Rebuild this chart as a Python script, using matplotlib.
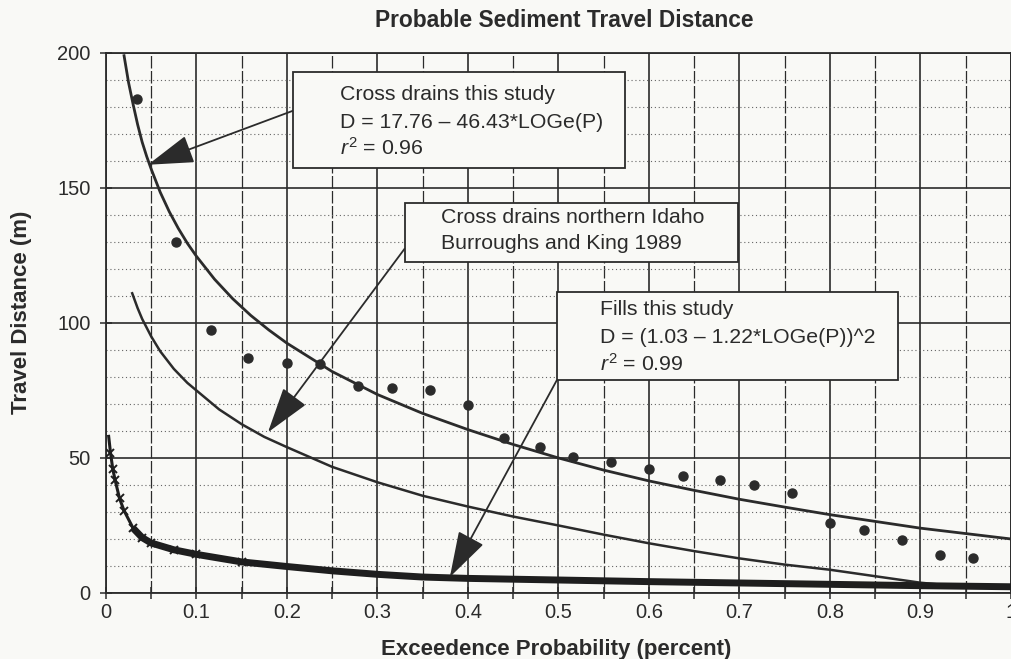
import matplotlib.pyplot as plt
from matplotlib.patches import Rectangle
from matplotlib.ticker import MultipleLocator, FuncFormatter

plt.rcParams['font.family'] = ['Liberation Sans', 'DejaVu Sans']
plt.rcParams['mathtext.fontset'] = 'custom'
plt.rcParams['mathtext.rm'] = 'Liberation Sans'
plt.rcParams['mathtext.it'] = 'Liberation Sans:italic'

# cross drains, this study (observed points)
p_obs = [0.034, 0.077, 0.116, 0.157, 0.200, 0.237, 0.278, 0.316, 0.358, 0.400, 0.440, 0.480,
         0.516, 0.558, 0.600, 0.638, 0.678, 0.716, 0.758, 0.800, 0.838, 0.880, 0.922, 0.958]
d_obs = [183, 130, 97.5, 87, 85.3, 84.8, 76.5, 76, 75, 69.5, 57.5, 54,
         50.5, 48.5, 46, 43.5, 42, 40, 37, 26, 23.5, 19.5, 14, 13]

# fitted curve, cross drains this study
p_fit = [0.02, 0.025, 0.03, 0.035, 0.04, 0.045, 0.05, 0.06, 0.07, 0.08, 0.09, 0.10,
         0.12, 0.14, 0.16, 0.18, 0.20, 0.25, 0.30, 0.35, 0.40, 0.45, 0.50, 0.55,
         0.60, 0.65, 0.70, 0.75, 0.80, 0.85, 0.90, 0.95, 1.00]
d_fit = [199, 189, 181, 173.5, 167, 161.7, 157, 148.4, 141.2, 135, 129.5, 124.7,
         116.2, 109, 102.8, 97.4, 92.5, 82, 73.5, 66.5, 60.5, 55, 50, 45.5,
         41.5, 38, 34.7, 31.8, 29, 26.5, 24, 22, 20]

# cross drains northern Idaho, Burroughs and King 1989
p_bk = [0.029, 0.035, 0.04, 0.05, 0.06, 0.075, 0.09, 0.10, 0.125, 0.15, 0.175, 0.20,
        0.25, 0.30, 0.35, 0.40, 0.45, 0.50, 0.55, 0.60, 0.65, 0.70, 0.75, 0.80,
        0.85, 0.90, 0.95]
d_bk = [111, 105.5, 101.5, 95, 89.5, 83, 77.8, 75, 68, 62.5, 57.8, 54,
        46.7, 41, 36, 32, 28.3, 25, 21.6, 18.4, 15.5, 12.8, 10.5, 8.6,
        6.2, 3.8, 2.2]

# fills, this study
p_fill = [0.003, 0.005, 0.0075, 0.01, 0.015, 0.02, 0.03, 0.04, 0.05, 0.075, 0.10, 0.15,
          0.20, 0.25, 0.30, 0.35, 0.40, 0.50, 0.60, 0.70, 0.80, 0.90, 1.00]
d_fill = [58, 52, 46, 42, 35, 30.5, 24, 20.5, 18.5, 16, 14.3, 11.5,
          9.8, 8.2, 6.9, 5.9, 5.4, 4.8, 4.2, 3.7, 3.2, 2.7, 2.3]

ink = '#2b2b2b'
paper = '#f9f9f6'

fig = plt.figure(figsize=(10.11, 6.59), dpi=100, facecolor=paper)
ax = fig.add_axes([0.1048, 0.1002, 0.8952, 0.8194], facecolor=paper)
ax.set_xlim(0, 1)
ax.set_ylim(0, 200)

ax.xaxis.set_major_locator(MultipleLocator(0.1))
ax.xaxis.set_minor_locator(MultipleLocator(0.05))
ax.yaxis.set_major_locator(MultipleLocator(50))
ax.yaxis.set_minor_locator(MultipleLocator(10))
ax.xaxis.set_major_formatter(FuncFormatter(lambda v, _: '0' if abs(v) < 1e-9 else f'{v:g}'))

ax.grid(which='major', axis='both', color=ink, lw=1.2)
ax.grid(which='minor', axis='x', color=ink, lw=0.9, ls=(0, (10, 2)))
ax.grid(which='minor', axis='y', color='#666666', lw=0.8, ls=(0, (1, 2.5)))
ax.set_axisbelow(True)

ax.tick_params(which='both', direction='inout', length=8, width=1.1, color=ink,
               labelsize=14.5, labelcolor=ink)
ax.tick_params(axis='y', which='minor', length=0)
ax.tick_params(axis='x', pad=3)
ax.tick_params(axis='y', pad=7)
for s in ax.spines.values():
    s.set_color(ink)
    s.set_linewidth(1.3)

# curves
ax.plot(p_fit, d_fit, color=ink, lw=2.0, zorder=3)
ax.plot(p_bk, d_bk, color=ink, lw=1.8, zorder=3)
ax.plot(p_fill[:7], d_fill[:7], color='#1e1e1e', lw=2.2, zorder=3)
ax.plot(p_fill[6:], d_fill[6:], color='#1e1e1e', lw=5, zorder=3, solid_capstyle='butt')
ax.plot(p_fill[1:12], d_fill[1:12], 'x', color='#1e1e1e', ms=6, mew=1.4, zorder=3)
ax.plot(p_obs, d_obs, 'o', color=ink, ms=6.5, mec=ink, zorder=4)

# annotation boxes
boxes = [
    ((0.2066, 157.5), (0.5735, 193.0), 0.2586,
     ['Cross drains this study', 'D = 17.76 \u2013 46.43*LOGe(P)', r'$\it{r}^{2}$ = 0.96'],
     [184.8, 174.1, 164.9], (0.2066, 178.6), (0.0464, 158.6)),
    ((0.330, 122.4), (0.698, 144.5), 0.370,
     ['Cross drains northern Idaho', 'Burroughs and King 1989'],
     [139.0, 129.4], (0.330, 127.5), (0.179, 59.5)),
    ((0.498, 78.7), (0.875, 111.3), 0.546,
     ['Fills this study', 'D = (1.03 \u2013 1.22*LOGe(P))^2', r'$\it{r}^{2}$ = 0.99'],
     [105.0, 94.6, 85.0], (0.498, 78.7), (0.380, 5.9)),
]
for (x0, y0), (x1, y1), tx, lines, ys, start, tip in boxes:
    ax.annotate('', xy=tip, xytext=start,
                arrowprops=dict(arrowstyle='-|>,head_length=2.9,head_width=0.9',
                                color=ink, lw=1.3, shrinkA=0, shrinkB=0, mutation_scale=10),
                zorder=5)
    ax.add_patch(Rectangle((x0, y0), x1 - x0, y1 - y0, fc=paper, ec=ink, lw=1.3, zorder=6))
    for line, y in zip(lines, ys):
        ax.text(tx, y, line, fontsize=15.3, color=ink, va='center', ha='left', zorder=7)

ax.set_xlabel('Exceedence Probability (percent)', fontsize=16, fontweight='bold', color=ink)
ax.xaxis.set_label_coords(0.497, -0.085)
ax.set_ylabel('Travel Distance (m)', fontsize=16, fontweight='bold', color=ink)
ax.yaxis.set_label_coords(-0.082, 0.52)
fig.text(0.558, 0.969, 'Probable Sediment Travel Distance', ha='center', va='center',
         fontsize=16.4, fontweight='bold', color=ink)

fig.savefig('out.png', dpi=100, facecolor=paper)
